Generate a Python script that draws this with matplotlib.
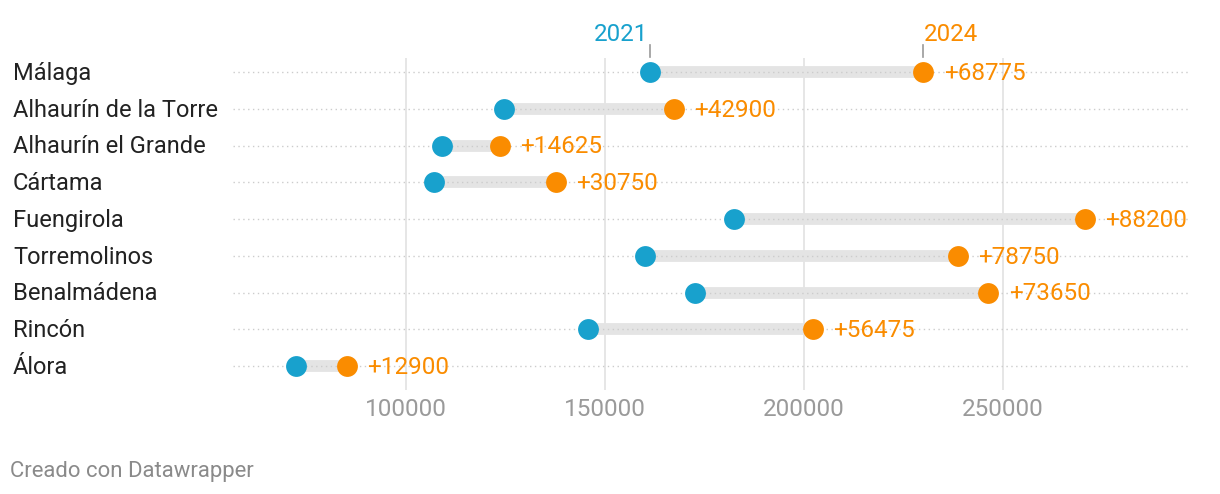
import matplotlib
matplotlib.use("Agg")
import matplotlib.pyplot as plt

plt.rcParams['font.family'] = ['Roboto', 'DejaVu Sans']

categories = ["Málaga", "Alhaurín de la Torre", "Alhaurín el Grande", "Cártama",
              "Fuengirola", "Torremolinos", "Benalmádena", "Rincón", "Álora"]
values_2021 = [161250, 124500, 108950, 106900, 182500, 160000, 172700, 145700, 72300]
values_2024 = [230025, 167400, 123575, 137650, 270700, 238750, 246350, 202175, 85200]
diff_labels = ["+68775", "+42900", "+14625", "+30750", "+88200", "+78750", "+73650", "+56475", "+12900"]
xticks = [100000, 150000, 200000, 250000]
xtick_labels = ["100000", "150000", "200000", "250000"]

BLUE = "#18a1cd"
ORANGE = "#fa8c00"

W, H = 1220, 494
fig = plt.figure(figsize=(W / 100, H / 100), dpi=100)
ax = fig.add_axes([233 / W, (H - 390) / H, (1188 - 233) / W, (390 - 58) / H])
ax.set_xlim(56500, 296500)
ax.set_ylim(8.65, -0.38)

ys = list(range(len(categories)))

for t in xticks:
    ax.axvline(t, color="#e2e2e2", lw=1.2, zorder=0)

for y in ys:
    ax.axhline(y, color="#cccccc", lw=1.0, ls=(0, (1, 2.5)), zorder=3)

for y, a, b in zip(ys, values_2021, values_2024):
    ax.plot([a, b], [y, y], color="#e4e4e4", lw=8.5, solid_capstyle="butt", zorder=2)

ax.scatter(values_2021, ys, s=225, color=BLUE, zorder=4, linewidths=0)
ax.scatter(values_2024, ys, s=225, color=ORANGE, zorder=4, linewidths=0)

for y, b, lab in zip(ys, values_2024, diff_labels):
    ax.annotate(lab, (b, y), xytext=(14.5, -1), textcoords="offset points",
                ha="left", va="center", color=ORANGE, fontsize=17.5)

ytrans = ax.get_yaxis_transform()
for y, c in zip(ys, categories):
    ax.annotate(c, (0, y), xycoords=ytrans, xytext=((13 - 233) * 0.72, -1),
                textcoords="offset points", ha="left", va="center",
                fontsize=17, color="#222222", annotation_clip=False)

# year labels above first row
ax.annotate("2021", (values_2021[0], -0.38), xytext=(-1.5, 8.5), textcoords="offset points",
            ha="right", va="bottom", color=BLUE, fontsize=17.4, annotation_clip=False)
ax.annotate("2024", (values_2024[0], -0.38), xytext=(0, 8.5), textcoords="offset points",
            ha="left", va="bottom", color=ORANGE, fontsize=17.4, annotation_clip=False)
for v in (values_2021[0], values_2024[0]):
    ax.plot([v, v], [-0.42, -0.72], color="#999999", lw=1.2, clip_on=False, zorder=1)

ax.set_xticks(xticks)
ax.set_xticklabels(xtick_labels)
ax.tick_params(axis="x", length=0, pad=6, labelsize=17.5, labelcolor="#9a9a9a")
ax.set_yticks([])
for s in ax.spines.values():
    s.set_visible(False)

fig.text(10 / W, 1 - 471 / H, "Creado con Datawrapper", ha="left", va="center",
         fontsize=15.9, color="#8a8a8a")

fig.savefig("out.png", dpi=100)
